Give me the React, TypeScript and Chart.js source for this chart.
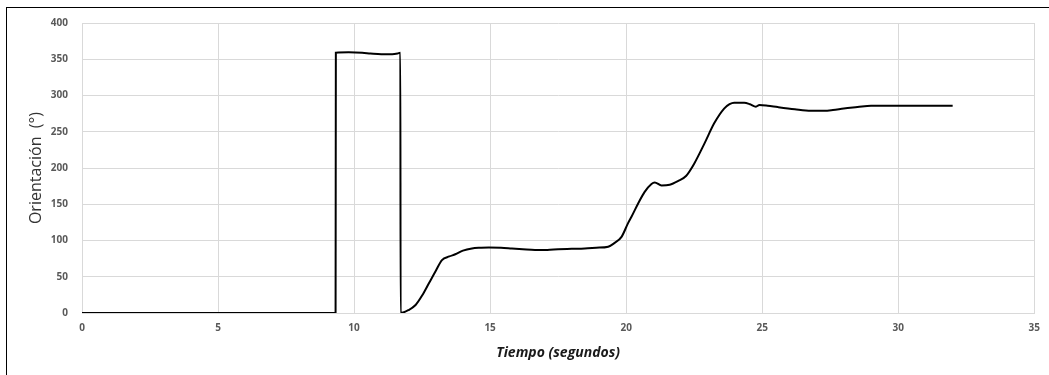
import React, { useEffect, useRef } from "react";
import { Chart, registerables } from "chart.js";

Chart.register(...registerables);

// Time stamps (s) and measured orientation (degrees)
const timeSeconds: number[] = [
  0, 9.32, 9.33, 9.8, 10.3, 10.6, 11.0, 11.4, 11.6, 11.7, 11.71,
  12.0, 12.26, 12.5, 12.75, 13.0, 13.23, 13.5, 13.72, 14.0, 14.33, 14.65,
  14.95, 15.4, 15.8, 16.2, 16.65, 17.1, 17.5, 18.0, 18.48, 18.9, 19.34,
  19.55, 19.83, 20.07, 20.2, 20.44, 20.68, 20.93, 21.05, 21.3, 21.6, 21.9,
  22.2, 22.5, 22.88, 23.24, 23.6, 23.8, 23.97, 24.34, 24.55, 24.77, 24.9,
  25.2, 25.57, 26.2, 26.79, 27.28, 27.6, 28.0, 28.5, 29.0, 30.0, 31.0, 32.0,
];

const orientationDeg: number[] = [
  0, 0, 359, 359.5, 359, 358, 357, 357, 358, 359, 0,
  4, 11, 24, 41, 58, 73, 78, 81, 86, 89, 90,
  90.5, 90, 89, 88, 87, 87, 88, 88.5, 89, 90, 91.5,
  96, 105, 124, 133, 151, 167, 178, 180, 176, 177, 182,
  189, 206, 234, 262, 282, 288, 290, 290, 288, 284.6, 287,
  286, 284, 281, 279, 279, 280, 282, 284, 286, 286, 286, 286,
];

const xAxisTitle = "Tiempo (segundos)";
const yAxisTitle = "Orientación  (°)";
const xRange = { min: 0, max: 35, step: 5 };
const yRange = { min: 0, max: 400, step: 50 };

export default function App() {
  const canvasRef = useRef<HTMLCanvasElement | null>(null);

  useEffect(() => {
    document.body.style.margin = "0";
    const canvas = canvasRef.current;
    if (!canvas) return;

    const points = timeSeconds.map((t, i) => ({ x: t, y: orientationDeg[i] }));
    const tickFont = { family: "'Liberation Sans Narrow', 'Open Sans', sans-serif", size: 10, weight: "bold" as const };

    const chart = new Chart(canvas, {
      type: "line",
      data: {
        datasets: [
          {
            data: points,
            borderColor: "#000000",
            borderWidth: 2,
            pointRadius: 0,
            cubicInterpolationMode: "monotone",
            fill: false,
          },
        ],
      },
      options: {
        animation: false,
        responsive: false,
        maintainAspectRatio: false,
        layout: { padding: { left: 0, top: 23, right: 12, bottom: 0 } },
        plugins: { legend: { display: false }, tooltip: { enabled: false } },
        scales: {
          x: {
            type: "linear",
            min: xRange.min,
            max: xRange.max,
            grid: { color: "#d9d9d9", drawTicks: false, lineWidth: 1 },
            border: { color: "#d9d9d9" },
            ticks: { stepSize: xRange.step, padding: 9, color: "#595959", font: tickFont, maxRotation: 0 },
            title: {
              display: true,
              text: xAxisTitle,
              color: "#1a1a1a",
              font: { family: "'Open Sans', sans-serif", size: 14, weight: "bold", style: "italic" },
              padding: { top: 0, bottom: 14 },
            },
            afterFit: (s: any) => {
              s.height = 62;
            },
          },
          y: {
            min: yRange.min,
            max: yRange.max,
            grid: { color: "#d9d9d9", drawTicks: false, lineWidth: 1 },
            border: { color: "#d9d9d9" },
            ticks: { stepSize: yRange.step, padding: 14, color: "#595959", font: tickFont },
            title: {
              display: true,
              text: yAxisTitle,
              color: "#333333",
              font: { family: "'Open Sans', sans-serif", size: 16 },
              padding: { top: 27, bottom: 0 },
            },
            afterFit: (s: any) => {
              s.width = 82;
            },
          },
        },
      },
    });

    return () => chart.destroy();
  }, []);

  return (
    <div style={{ position: "relative", width: 1049, height: 375, background: "#ffffff" }}>
      <canvas ref={canvasRef} width={1049} height={375} style={{ display: "block" }} />
      <div
        style={{
          position: "absolute",
          left: 6,
          top: 7,
          right: 0,
          bottom: 0,
          borderLeft: "1px solid #000",
          borderTop: "1px solid #000",
          pointerEvents: "none",
        }}
      />
    </div>
  );
}
